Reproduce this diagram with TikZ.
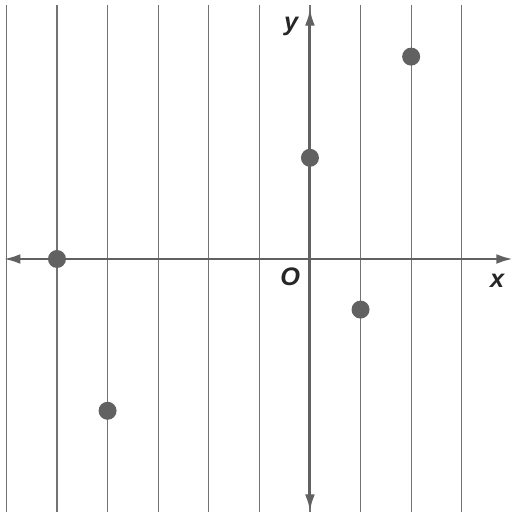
\documentclass[tikz,border=0pt]{standalone}
\usepackage{fontspec}
\setmainfont{Liberation Sans}
\usetikzlibrary{positioning,arrows.meta}

\begin{document}
\begin{tikzpicture}[
  x=50.6pt*0.75, y=50.6pt*0.75,
  grd/.style = {draw=black!55, line width=0.9pt},
  axs/.style = {draw=black!62, line width=2.2pt, {Latex[length=4.5mm,width=2.6mm]}-{Latex[length=4.5mm,width=2.6mm]}},
  pt/.style  = {circle, fill=black!62, minimum size=13.5pt, inner sep=0pt},
  lbl/.style = {font=\fontsize{19}{19}\selectfont\bfseries\itshape, text=black!85, inner sep=0pt},
]
\useasboundingbox (-6.126,-5.04) rectangle (4.032,5.119);

% vertical grid lines
\foreach \gx in {-6,...,3} {
  \draw[grd] (\gx,5.02) -- (\gx,-5.0);
}

% axes
\coordinate (xl) at (-6.06,0);
\coordinate (xr) at (4.02,0);
\coordinate (yt) at (0,4.95);
\coordinate (yb) at (0,-4.99);
\draw[axs] (xl) -- (xr);
\draw[axs] (yb) -- (yt);

\node[lbl] (ylab) at (-0.37,4.6) {y};
\node[lbl] (olab) at (-0.39,-0.36) {O};
\node[lbl] (xlab) at (3.70,-0.43) {x};

% plotted points
\node[pt] (p1) at (-5,0) {};
\node[pt] (p2) at (-4,-3) {};
\node[pt] (p3) at (0,2) {};
\node[pt] (p4) at (1,-1) {};
\node[pt] (p5) at (2,4) {};

\end{tikzpicture}
\end{document}
